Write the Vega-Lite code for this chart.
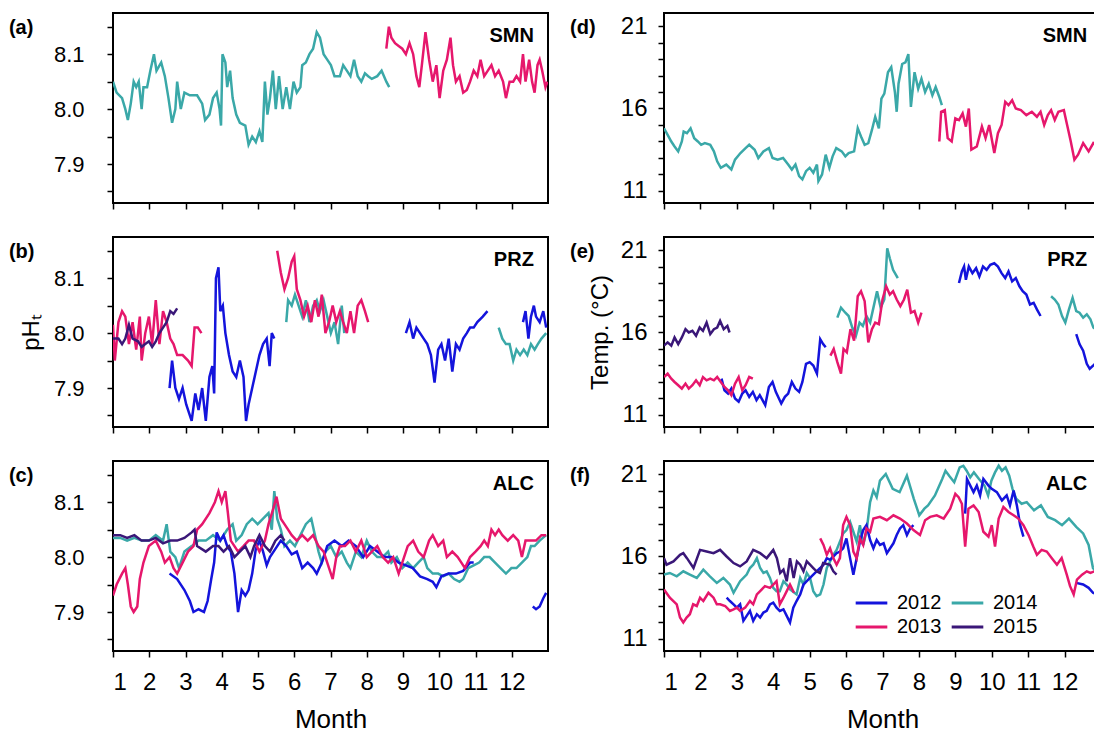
{
"$schema": "https://vega.github.io/schema/vega-lite/v6.json",
"background": "white",
"padding": {"left": 7, "top": 12, "right": 0, "bottom": 0},
"config": {
  "font": "Liberation Sans",
  "view": {"stroke": "black", "strokeWidth": 2},
  "axis": {"grid": false, "domain": false, "tickColor": "black", "tickWidth": 1.5, "labelColor": "black", "titleColor": "black", "titleFontWeight": "normal", "labelOverlap": false, "labelBound": false, "tickCount": 40},
  "text": {"color": "black"}
},
"datasets": {
"a": [
{"m":1.00,"v":8.05,"y":"2014","g":"t"},{"m":1.10,"v":8.03,"y":"2014","g":"t"},{"m":1.25,"v":8.02,"y":"2014","g":"t"},{"m":1.34,"v":8.00,"y":"2014","g":"t"},{"m":1.41,"v":7.98,"y":"2014","g":"t"},{"m":1.49,"v":8.01,"y":"2014","g":"t"},{"m":1.57,"v":8.05,"y":"2014","g":"t"},{"m":1.64,"v":8.04,"y":"2014","g":"t"},{"m":1.71,"v":8.05,"y":"2014","g":"t"},{"m":1.79,"v":8.00,"y":"2014","g":"t"},{"m":1.84,"v":8.04,"y":"2014","g":"t"},{"m":1.94,"v":8.04,"y":"2014","g":"t"},{"m":2.03,"v":8.07,"y":"2014","g":"t"},{"m":2.13,"v":8.10,"y":"2014","g":"t"},{"m":2.20,"v":8.07,"y":"2014","g":"t"},{"m":2.33,"v":8.085,"y":"2014","g":"t"},{"m":2.43,"v":8.06,"y":"2014","g":"t"},{"m":2.53,"v":8.02,"y":"2014","g":"t"},{"m":2.63,"v":7.975,"y":"2014","g":"t"},{"m":2.72,"v":8.00,"y":"2014","g":"t"},{"m":2.77,"v":8.05,"y":"2014","g":"t"},{"m":2.87,"v":8.00,"y":"2014","g":"t"},{"m":2.97,"v":8.03,"y":"2014","g":"t"},{"m":3.12,"v":8.025,"y":"2014","g":"t"},{"m":3.32,"v":8.025,"y":"2014","g":"t"},{"m":3.46,"v":8.01,"y":"2014","g":"t"},{"m":3.54,"v":7.98,"y":"2014","g":"t"},{"m":3.66,"v":7.99,"y":"2014","g":"t"},{"m":3.76,"v":8.02,"y":"2014","g":"t"},{"m":3.86,"v":8.03,"y":"2014","g":"t"},{"m":3.94,"v":8.00,"y":"2014","g":"t"},{"m":3.98,"v":7.97,"y":"2014","g":"t"},{"m":4.02,"v":8.10,"y":"2014","g":"t"},{"m":4.10,"v":8.085,"y":"2014","g":"t"},{"m":4.15,"v":8.04,"y":"2014","g":"t"},{"m":4.23,"v":8.07,"y":"2014","g":"t"},{"m":4.30,"v":8.02,"y":"2014","g":"t"},{"m":4.40,"v":7.99,"y":"2014","g":"t"},{"m":4.50,"v":7.975,"y":"2014","g":"t"},{"m":4.65,"v":7.97,"y":"2014","g":"t"},{"m":4.74,"v":7.935,"y":"2014","g":"t"},{"m":4.84,"v":7.95,"y":"2014","g":"t"},{"m":4.94,"v":7.94,"y":"2014","g":"t"},{"m":5.04,"v":7.96,"y":"2014","g":"t"},{"m":5.12,"v":7.94,"y":"2014","g":"t"},{"m":5.19,"v":8.05,"y":"2014","g":"t"},{"m":5.26,"v":7.99,"y":"2014","g":"t"},{"m":5.33,"v":8.02,"y":"2014","g":"t"},{"m":5.41,"v":8.07,"y":"2014","g":"t"},{"m":5.49,"v":8.00,"y":"2014","g":"t"},{"m":5.58,"v":8.06,"y":"2014","g":"t"},{"m":5.68,"v":8.00,"y":"2014","g":"t"},{"m":5.78,"v":8.04,"y":"2014","g":"t"},{"m":5.88,"v":8.00,"y":"2014","g":"t"},{"m":5.98,"v":8.05,"y":"2014","g":"t"},{"m":6.07,"v":8.03,"y":"2014","g":"t"},{"m":6.17,"v":8.04,"y":"2014","g":"t"},{"m":6.22,"v":8.08,"y":"2014","g":"t"},{"m":6.32,"v":8.085,"y":"2014","g":"t"},{"m":6.42,"v":8.10,"y":"2014","g":"t"},{"m":6.52,"v":8.11,"y":"2014","g":"t"},{"m":6.62,"v":8.14,"y":"2014","g":"t"},{"m":6.71,"v":8.13,"y":"2014","g":"t"},{"m":6.81,"v":8.10,"y":"2014","g":"t"},{"m":6.91,"v":8.09,"y":"2014","g":"t"},{"m":7.01,"v":8.08,"y":"2014","g":"t"},{"m":7.11,"v":8.06,"y":"2014","g":"t"},{"m":7.26,"v":8.06,"y":"2014","g":"t"},{"m":7.35,"v":8.08,"y":"2014","g":"t"},{"m":7.45,"v":8.07,"y":"2014","g":"t"},{"m":7.55,"v":8.06,"y":"2014","g":"t"},{"m":7.65,"v":8.09,"y":"2014","g":"t"},{"m":7.75,"v":8.06,"y":"2014","g":"t"},{"m":7.85,"v":8.05,"y":"2014","g":"t"},{"m":7.95,"v":8.065,"y":"2014","g":"t"},{"m":8.04,"v":8.06,"y":"2014","g":"t"},{"m":8.14,"v":8.055,"y":"2014","g":"t"},{"m":8.29,"v":8.06,"y":"2014","g":"t"},{"m":8.41,"v":8.07,"y":"2014","g":"t"},{"m":8.54,"v":8.05,"y":"2014","g":"t"},{"m":8.62,"v":8.04,"y":"2014","g":"t"},
{"m":8.54,"v":8.11,"y":"2013","g":"p"},{"m":8.61,"v":8.15,"y":"2013","g":"p"},{"m":8.68,"v":8.13,"y":"2013","g":"p"},{"m":8.78,"v":8.12,"y":"2013","g":"p"},{"m":8.88,"v":8.115,"y":"2013","g":"p"},{"m":8.98,"v":8.11,"y":"2013","g":"p"},{"m":9.08,"v":8.10,"y":"2013","g":"p"},{"m":9.18,"v":8.12,"y":"2013","g":"p"},{"m":9.28,"v":8.10,"y":"2013","g":"p"},{"m":9.37,"v":8.06,"y":"2013","g":"p"},{"m":9.45,"v":8.04,"y":"2013","g":"p"},{"m":9.52,"v":8.08,"y":"2013","g":"p"},{"m":9.62,"v":8.14,"y":"2013","g":"p"},{"m":9.72,"v":8.09,"y":"2013","g":"p"},{"m":9.82,"v":8.05,"y":"2013","g":"p"},{"m":9.92,"v":8.08,"y":"2013","g":"p"},{"m":10.01,"v":8.02,"y":"2013","g":"p"},{"m":10.11,"v":8.07,"y":"2013","g":"p"},{"m":10.21,"v":8.09,"y":"2013","g":"p"},{"m":10.31,"v":8.13,"y":"2013","g":"p"},{"m":10.38,"v":8.08,"y":"2013","g":"p"},{"m":10.46,"v":8.05,"y":"2013","g":"p"},{"m":10.56,"v":8.06,"y":"2013","g":"p"},{"m":10.66,"v":8.03,"y":"2013","g":"p"},{"m":10.76,"v":8.035,"y":"2013","g":"p"},{"m":10.85,"v":8.05,"y":"2013","g":"p"},{"m":10.95,"v":8.07,"y":"2013","g":"p"},{"m":11.05,"v":8.06,"y":"2013","g":"p"},{"m":11.14,"v":8.09,"y":"2013","g":"p"},{"m":11.24,"v":8.06,"y":"2013","g":"p"},{"m":11.34,"v":8.07,"y":"2013","g":"p"},{"m":11.44,"v":8.08,"y":"2013","g":"p"},{"m":11.54,"v":8.06,"y":"2013","g":"p"},{"m":11.64,"v":8.07,"y":"2013","g":"p"},{"m":11.76,"v":8.05,"y":"2013","g":"p"},{"m":11.84,"v":8.02,"y":"2013","g":"p"},{"m":11.94,"v":8.05,"y":"2013","g":"p"},{"m":12.04,"v":8.05,"y":"2013","g":"p"},{"m":12.13,"v":8.06,"y":"2013","g":"p"},{"m":12.23,"v":8.05,"y":"2013","g":"p"},{"m":12.31,"v":8.10,"y":"2013","g":"p"},{"m":12.38,"v":8.05,"y":"2013","g":"p"},{"m":12.48,"v":8.09,"y":"2013","g":"p"},{"m":12.56,"v":8.05,"y":"2013","g":"p"},{"m":12.63,"v":8.03,"y":"2013","g":"p"},{"m":12.71,"v":8.08,"y":"2013","g":"p"},{"m":12.77,"v":8.09,"y":"2013","g":"p"},{"m":12.84,"v":8.07,"y":"2013","g":"p"},{"m":12.93,"v":8.04,"y":"2013","g":"p"},{"m":12.98,"v":8.05,"y":"2013","g":"p"}
],
"b": [
{"m":5.78,"v":8.02,"y":"2014","g":"t1"},{"m":5.83,"v":8.06,"y":"2014","g":"t1"},{"m":5.93,"v":8.05,"y":"2014","g":"t1"},{"m":6.02,"v":8.07,"y":"2014","g":"t1"},{"m":6.12,"v":8.05,"y":"2014","g":"t1"},{"m":6.22,"v":8.03,"y":"2014","g":"t1"},{"m":6.32,"v":8.06,"y":"2014","g":"t1"},{"m":6.42,"v":8.02,"y":"2014","g":"t1"},{"m":6.52,"v":8.05,"y":"2014","g":"t1"},{"m":6.62,"v":8.06,"y":"2014","g":"t1"},{"m":6.71,"v":8.04,"y":"2014","g":"t1"},{"m":6.81,"v":8.06,"y":"2014","g":"t1"},{"m":6.91,"v":8.03,"y":"2014","g":"t1"},{"m":7.01,"v":8.00,"y":"2014","g":"t1"},{"m":7.11,"v":8.02,"y":"2014","g":"t1"},{"m":7.21,"v":7.98,"y":"2014","g":"t1"},{"m":7.31,"v":8.05,"y":"2014","g":"t1"},{"m":7.38,"v":8.00,"y":"2014","g":"t1"},
{"m":11.64,"v":8.01,"y":"2014","g":"t2"},{"m":11.74,"v":7.99,"y":"2014","g":"t2"},{"m":11.84,"v":7.98,"y":"2014","g":"t2"},{"m":11.94,"v":7.98,"y":"2014","g":"t2"},{"m":12.04,"v":7.95,"y":"2014","g":"t2"},{"m":12.13,"v":7.97,"y":"2014","g":"t2"},{"m":12.23,"v":7.96,"y":"2014","g":"t2"},{"m":12.33,"v":7.97,"y":"2014","g":"t2"},{"m":12.43,"v":7.96,"y":"2014","g":"t2"},{"m":12.53,"v":7.98,"y":"2014","g":"t2"},{"m":12.63,"v":7.97,"y":"2014","g":"t2"},{"m":12.72,"v":7.98,"y":"2014","g":"t2"},{"m":12.82,"v":7.99,"y":"2014","g":"t2"},{"m":12.95,"v":8.00,"y":"2014","g":"t2"},
{"m":2.56,"v":7.90,"y":"2012","g":"b1"},{"m":2.63,"v":7.95,"y":"2012","g":"b1"},{"m":2.72,"v":7.90,"y":"2012","g":"b1"},{"m":2.82,"v":7.88,"y":"2012","g":"b1"},{"m":2.92,"v":7.90,"y":"2012","g":"b1"},{"m":3.02,"v":7.87,"y":"2012","g":"b1"},{"m":3.17,"v":7.84,"y":"2012","g":"b1"},{"m":3.27,"v":7.89,"y":"2012","g":"b1"},{"m":3.36,"v":7.86,"y":"2012","g":"b1"},{"m":3.46,"v":7.90,"y":"2012","g":"b1"},{"m":3.56,"v":7.84,"y":"2012","g":"b1"},{"m":3.66,"v":7.92,"y":"2012","g":"b1"},{"m":3.74,"v":7.94,"y":"2012","g":"b1"},{"m":3.79,"v":7.89,"y":"2012","g":"b1"},{"m":3.84,"v":8.10,"y":"2012","g":"b1"},{"m":3.91,"v":8.12,"y":"2012","g":"b1"},{"m":3.96,"v":8.04,"y":"2012","g":"b1"},{"m":4.03,"v":8.05,"y":"2012","g":"b1"},{"m":4.10,"v":8.00,"y":"2012","g":"b1"},{"m":4.20,"v":7.96,"y":"2012","g":"b1"},{"m":4.30,"v":7.93,"y":"2012","g":"b1"},{"m":4.40,"v":7.92,"y":"2012","g":"b1"},{"m":4.50,"v":7.95,"y":"2012","g":"b1"},{"m":4.60,"v":7.92,"y":"2012","g":"b1"},{"m":4.67,"v":7.84,"y":"2012","g":"b1"},{"m":4.74,"v":7.87,"y":"2012","g":"b1"},{"m":4.84,"v":7.90,"y":"2012","g":"b1"},{"m":4.94,"v":7.93,"y":"2012","g":"b1"},{"m":5.04,"v":7.96,"y":"2012","g":"b1"},{"m":5.14,"v":7.98,"y":"2012","g":"b1"},{"m":5.24,"v":7.99,"y":"2012","g":"b1"},{"m":5.32,"v":7.94,"y":"2012","g":"b1"},{"m":5.38,"v":8.00,"y":"2012","g":"b1"},{"m":5.45,"v":7.99,"y":"2012","g":"b1"},
{"m":9.08,"v":8.00,"y":"2012","g":"b2"},{"m":9.18,"v":8.02,"y":"2012","g":"b2"},{"m":9.28,"v":7.99,"y":"2012","g":"b2"},{"m":9.37,"v":8.01,"y":"2012","g":"b2"},{"m":9.47,"v":8.00,"y":"2012","g":"b2"},{"m":9.57,"v":7.99,"y":"2012","g":"b2"},{"m":9.67,"v":7.98,"y":"2012","g":"b2"},{"m":9.77,"v":7.96,"y":"2012","g":"b2"},{"m":9.87,"v":7.91,"y":"2012","g":"b2"},{"m":9.97,"v":7.97,"y":"2012","g":"b2"},{"m":10.06,"v":7.98,"y":"2012","g":"b2"},{"m":10.16,"v":7.95,"y":"2012","g":"b2"},{"m":10.26,"v":7.99,"y":"2012","g":"b2"},{"m":10.36,"v":7.93,"y":"2012","g":"b2"},{"m":10.46,"v":7.98,"y":"2012","g":"b2"},{"m":10.56,"v":7.97,"y":"2012","g":"b2"},{"m":10.66,"v":7.99,"y":"2012","g":"b2"},{"m":10.76,"v":8.00,"y":"2012","g":"b2"},{"m":10.85,"v":8.01,"y":"2012","g":"b2"},{"m":10.95,"v":8.01,"y":"2012","g":"b2"},{"m":11.05,"v":8.02,"y":"2012","g":"b2"},{"m":11.20,"v":8.03,"y":"2012","g":"b2"},{"m":11.33,"v":8.04,"y":"2012","g":"b2"},
{"m":12.31,"v":8.02,"y":"2012","g":"b3"},{"m":12.38,"v":8.04,"y":"2012","g":"b3"},{"m":12.46,"v":7.99,"y":"2012","g":"b3"},{"m":12.53,"v":8.03,"y":"2012","g":"b3"},{"m":12.61,"v":8.05,"y":"2012","g":"b3"},{"m":12.67,"v":8.03,"y":"2012","g":"b3"},{"m":12.77,"v":8.02,"y":"2012","g":"b3"},{"m":12.87,"v":8.04,"y":"2012","g":"b3"},{"m":12.95,"v":8.01,"y":"2012","g":"b3"},
{"m":1.00,"v":8.015,"y":"2013","g":"p1"},{"m":1.05,"v":7.95,"y":"2013","g":"p1"},{"m":1.15,"v":8.02,"y":"2013","g":"p1"},{"m":1.25,"v":8.04,"y":"2013","g":"p1"},{"m":1.34,"v":8.03,"y":"2013","g":"p1"},{"m":1.44,"v":7.98,"y":"2013","g":"p1"},{"m":1.54,"v":8.02,"y":"2013","g":"p1"},{"m":1.64,"v":7.97,"y":"2013","g":"p1"},{"m":1.74,"v":8.03,"y":"2013","g":"p1"},{"m":1.79,"v":7.95,"y":"2013","g":"p1"},{"m":1.89,"v":8.00,"y":"2013","g":"p1"},{"m":1.99,"v":8.03,"y":"2013","g":"p1"},{"m":2.08,"v":7.98,"y":"2013","g":"p1"},{"m":2.18,"v":8.06,"y":"2013","g":"p1"},{"m":2.28,"v":7.98,"y":"2013","g":"p1"},{"m":2.38,"v":8.04,"y":"2013","g":"p1"},{"m":2.48,"v":8.02,"y":"2013","g":"p1"},{"m":2.58,"v":7.99,"y":"2013","g":"p1"},{"m":2.67,"v":7.98,"y":"2013","g":"p1"},{"m":2.77,"v":7.96,"y":"2013","g":"p1"},{"m":2.92,"v":7.96,"y":"2013","g":"p1"},{"m":3.07,"v":7.95,"y":"2013","g":"p1"},{"m":3.17,"v":7.94,"y":"2013","g":"p1"},{"m":3.25,"v":8.01,"y":"2013","g":"p1"},{"m":3.34,"v":8.01,"y":"2013","g":"p1"},{"m":3.44,"v":8.00,"y":"2013","g":"p1"},
{"m":5.53,"v":8.15,"y":"2013","g":"p2"},{"m":5.63,"v":8.11,"y":"2013","g":"p2"},{"m":5.73,"v":8.08,"y":"2013","g":"p2"},{"m":5.83,"v":8.10,"y":"2013","g":"p2"},{"m":5.93,"v":8.13,"y":"2013","g":"p2"},{"m":6.00,"v":8.14,"y":"2013","g":"p2"},{"m":6.07,"v":8.08,"y":"2013","g":"p2"},{"m":6.17,"v":8.06,"y":"2013","g":"p2"},{"m":6.27,"v":8.03,"y":"2013","g":"p2"},{"m":6.37,"v":8.05,"y":"2013","g":"p2"},{"m":6.47,"v":8.02,"y":"2013","g":"p2"},{"m":6.57,"v":8.06,"y":"2013","g":"p2"},{"m":6.67,"v":8.03,"y":"2013","g":"p2"},{"m":6.76,"v":8.07,"y":"2013","g":"p2"},{"m":6.86,"v":8.00,"y":"2013","g":"p2"},{"m":6.96,"v":8.02,"y":"2013","g":"p2"},{"m":7.06,"v":8.05,"y":"2013","g":"p2"},{"m":7.16,"v":8.02,"y":"2013","g":"p2"},{"m":7.26,"v":8.04,"y":"2013","g":"p2"},{"m":7.35,"v":8.02,"y":"2013","g":"p2"},{"m":7.45,"v":8.00,"y":"2013","g":"p2"},{"m":7.55,"v":8.04,"y":"2013","g":"p2"},{"m":7.65,"v":8.00,"y":"2013","g":"p2"},{"m":7.75,"v":8.05,"y":"2013","g":"p2"},{"m":7.85,"v":8.06,"y":"2013","g":"p2"},{"m":7.95,"v":8.04,"y":"2013","g":"p2"},{"m":8.04,"v":8.02,"y":"2013","g":"p2"},
{"m":1.00,"v":7.99,"y":"2015","g":"u"},{"m":1.15,"v":7.99,"y":"2015","g":"u"},{"m":1.25,"v":7.98,"y":"2015","g":"u"},{"m":1.34,"v":7.99,"y":"2015","g":"u"},{"m":1.44,"v":8.015,"y":"2015","g":"u"},{"m":1.54,"v":7.99,"y":"2015","g":"u"},{"m":1.69,"v":7.985,"y":"2015","g":"u"},{"m":1.79,"v":7.975,"y":"2015","g":"u"},{"m":1.89,"v":7.98,"y":"2015","g":"u"},{"m":1.99,"v":7.985,"y":"2015","g":"u"},{"m":2.08,"v":7.975,"y":"2015","g":"u"},{"m":2.18,"v":7.985,"y":"2015","g":"u"},{"m":2.28,"v":8.00,"y":"2015","g":"u"},{"m":2.38,"v":8.01,"y":"2015","g":"u"},{"m":2.48,"v":8.02,"y":"2015","g":"u"},{"m":2.58,"v":8.04,"y":"2015","g":"u"},{"m":2.67,"v":8.035,"y":"2015","g":"u"},{"m":2.77,"v":8.045,"y":"2015","g":"u"}
],
"c": [
{"m":1.00,"v":8.035,"y":"2014","g":"t"},{"m":1.20,"v":8.035,"y":"2014","g":"t"},{"m":1.39,"v":8.03,"y":"2014","g":"t"},{"m":1.59,"v":8.035,"y":"2014","g":"t"},{"m":1.79,"v":8.03,"y":"2014","g":"t"},{"m":1.99,"v":8.03,"y":"2014","g":"t"},{"m":2.18,"v":8.04,"y":"2014","g":"t"},{"m":2.38,"v":8.03,"y":"2014","g":"t"},{"m":2.48,"v":8.06,"y":"2014","g":"t"},{"m":2.58,"v":8.01,"y":"2014","g":"t"},{"m":2.72,"v":8.00,"y":"2014","g":"t"},{"m":2.82,"v":7.98,"y":"2014","g":"t"},{"m":2.97,"v":8.01,"y":"2014","g":"t"},{"m":3.17,"v":8.02,"y":"2014","g":"t"},{"m":3.36,"v":8.03,"y":"2014","g":"t"},{"m":3.56,"v":8.03,"y":"2014","g":"t"},{"m":3.76,"v":8.04,"y":"2014","g":"t"},{"m":3.96,"v":8.03,"y":"2014","g":"t"},{"m":4.15,"v":8.05,"y":"2014","g":"t"},{"m":4.30,"v":8.06,"y":"2014","g":"t"},{"m":4.40,"v":8.03,"y":"2014","g":"t"},{"m":4.55,"v":8.04,"y":"2014","g":"t"},{"m":4.69,"v":8.06,"y":"2014","g":"t"},{"m":4.84,"v":8.07,"y":"2014","g":"t"},{"m":4.99,"v":8.06,"y":"2014","g":"t"},{"m":5.14,"v":8.07,"y":"2014","g":"t"},{"m":5.29,"v":8.08,"y":"2014","g":"t"},{"m":5.38,"v":8.05,"y":"2014","g":"t"},{"m":5.45,"v":8.12,"y":"2014","g":"t"},{"m":5.53,"v":8.07,"y":"2014","g":"t"},{"m":5.63,"v":8.05,"y":"2014","g":"t"},{"m":5.73,"v":8.02,"y":"2014","g":"t"},{"m":5.88,"v":8.03,"y":"2014","g":"t"},{"m":6.02,"v":8.02,"y":"2014","g":"t"},{"m":6.17,"v":8.04,"y":"2014","g":"t"},{"m":6.32,"v":8.06,"y":"2014","g":"t"},{"m":6.47,"v":8.07,"y":"2014","g":"t"},{"m":6.57,"v":8.04,"y":"2014","g":"t"},{"m":6.67,"v":8.01,"y":"2014","g":"t"},{"m":6.76,"v":7.99,"y":"2014","g":"t"},{"m":6.86,"v":8.01,"y":"2014","g":"t"},{"m":7.01,"v":8.02,"y":"2014","g":"t"},{"m":7.16,"v":8.00,"y":"2014","g":"t"},{"m":7.31,"v":8.01,"y":"2014","g":"t"},{"m":7.45,"v":7.99,"y":"2014","g":"t"},{"m":7.55,"v":7.98,"y":"2014","g":"t"},{"m":7.70,"v":8.01,"y":"2014","g":"t"},{"m":7.85,"v":8.00,"y":"2014","g":"t"},{"m":8.00,"v":8.03,"y":"2014","g":"t"},{"m":8.14,"v":8.01,"y":"2014","g":"t"},{"m":8.29,"v":8.00,"y":"2014","g":"t"},{"m":8.44,"v":8.00,"y":"2014","g":"t"},{"m":8.59,"v":8.01,"y":"2014","g":"t"},{"m":8.68,"v":7.99,"y":"2014","g":"t"},{"m":8.83,"v":8.00,"y":"2014","g":"t"},{"m":8.98,"v":7.98,"y":"2014","g":"t"},{"m":9.13,"v":7.99,"y":"2014","g":"t"},{"m":9.28,"v":7.98,"y":"2014","g":"t"},{"m":9.42,"v":7.99,"y":"2014","g":"t"},{"m":9.57,"v":8.00,"y":"2014","g":"t"},{"m":9.67,"v":7.98,"y":"2014","g":"t"},{"m":9.82,"v":7.97,"y":"2014","g":"t"},{"m":9.97,"v":7.97,"y":"2014","g":"t"},{"m":10.11,"v":7.965,"y":"2014","g":"t"},{"m":10.26,"v":7.97,"y":"2014","g":"t"},{"m":10.41,"v":7.96,"y":"2014","g":"t"},{"m":10.56,"v":7.955,"y":"2014","g":"t"},{"m":10.66,"v":7.96,"y":"2014","g":"t"},{"m":10.80,"v":7.98,"y":"2014","g":"t"},{"m":10.95,"v":7.985,"y":"2014","g":"t"},{"m":11.10,"v":7.99,"y":"2014","g":"t"},{"m":11.24,"v":8.00,"y":"2014","g":"t"},{"m":11.39,"v":8.00,"y":"2014","g":"t"},{"m":11.54,"v":7.99,"y":"2014","g":"t"},{"m":11.69,"v":7.98,"y":"2014","g":"t"},{"m":11.84,"v":7.97,"y":"2014","g":"t"},{"m":11.99,"v":7.98,"y":"2014","g":"t"},{"m":12.13,"v":7.98,"y":"2014","g":"t"},{"m":12.28,"v":7.99,"y":"2014","g":"t"},{"m":12.43,"v":8.00,"y":"2014","g":"t"},{"m":12.53,"v":8.02,"y":"2014","g":"t"},{"m":12.63,"v":8.02,"y":"2014","g":"t"},{"m":12.77,"v":8.03,"y":"2014","g":"t"},{"m":12.95,"v":8.04,"y":"2014","g":"t"},
{"m":2.56,"v":7.97,"y":"2012","g":"b1"},{"m":2.77,"v":7.96,"y":"2012","g":"b1"},{"m":2.97,"v":7.94,"y":"2012","g":"b1"},{"m":3.12,"v":7.92,"y":"2012","g":"b1"},{"m":3.22,"v":7.90,"y":"2012","g":"b1"},{"m":3.36,"v":7.905,"y":"2012","g":"b1"},{"m":3.51,"v":7.90,"y":"2012","g":"b1"},{"m":3.61,"v":7.92,"y":"2012","g":"b1"},{"m":3.71,"v":7.96,"y":"2012","g":"b1"},{"m":3.79,"v":7.99,"y":"2012","g":"b1"},{"m":3.86,"v":8.045,"y":"2012","g":"b1"},{"m":3.96,"v":8.03,"y":"2012","g":"b1"},{"m":4.05,"v":8.04,"y":"2012","g":"b1"},{"m":4.15,"v":8.02,"y":"2012","g":"b1"},{"m":4.25,"v":8.01,"y":"2012","g":"b1"},{"m":4.35,"v":7.97,"y":"2012","g":"b1"},{"m":4.45,"v":7.90,"y":"2012","g":"b1"},{"m":4.55,"v":7.94,"y":"2012","g":"b1"},{"m":4.65,"v":7.93,"y":"2012","g":"b1"},{"m":4.74,"v":7.94,"y":"2012","g":"b1"},{"m":4.84,"v":7.97,"y":"2012","g":"b1"},{"m":4.94,"v":8.015,"y":"2012","g":"b1"},{"m":5.04,"v":8.03,"y":"2012","g":"b1"},{"m":5.14,"v":8.01,"y":"2012","g":"b1"},{"m":5.24,"v":7.985,"y":"2012","g":"b1"},{"m":5.33,"v":8.00,"y":"2012","g":"b1"},{"m":5.48,"v":8.015,"y":"2012","g":"b1"},{"m":5.63,"v":8.03,"y":"2012","g":"b1"},{"m":5.78,"v":8.02,"y":"2012","g":"b1"},{"m":5.93,"v":8.005,"y":"2012","g":"b1"},{"m":6.07,"v":8.01,"y":"2012","g":"b1"},{"m":6.22,"v":7.98,"y":"2012","g":"b1"},{"m":6.37,"v":7.99,"y":"2012","g":"b1"},{"m":6.52,"v":7.98,"y":"2012","g":"b1"},{"m":6.62,"v":7.97,"y":"2012","g":"b1"},{"m":6.76,"v":7.99,"y":"2012","g":"b1"},{"m":6.91,"v":8.02,"y":"2012","g":"b1"},{"m":7.11,"v":8.03,"y":"2012","g":"b1"},{"m":7.31,"v":8.02,"y":"2012","g":"b1"},{"m":7.50,"v":8.03,"y":"2012","g":"b1"},{"m":7.70,"v":8.02,"y":"2012","g":"b1"},{"m":7.90,"v":8.00,"y":"2012","g":"b1"},{"m":8.09,"v":8.02,"y":"2012","g":"b1"},{"m":8.29,"v":8.01,"y":"2012","g":"b1"},{"m":8.49,"v":8.00,"y":"2012","g":"b1"},{"m":8.68,"v":8.00,"y":"2012","g":"b1"},{"m":8.88,"v":7.99,"y":"2012","g":"b1"},{"m":9.08,"v":7.985,"y":"2012","g":"b1"},{"m":9.27,"v":7.98,"y":"2012","g":"b1"},{"m":9.47,"v":7.965,"y":"2012","g":"b1"},{"m":9.67,"v":7.96,"y":"2012","g":"b1"},{"m":9.82,"v":7.955,"y":"2012","g":"b1"},{"m":9.92,"v":7.945,"y":"2012","g":"b1"},{"m":10.06,"v":7.965,"y":"2012","g":"b1"},{"m":10.26,"v":7.97,"y":"2012","g":"b1"},{"m":10.46,"v":7.97,"y":"2012","g":"b1"},{"m":10.66,"v":7.975,"y":"2012","g":"b1"},{"m":10.85,"v":7.99,"y":"2012","g":"b1"},{"m":10.95,"v":7.99,"y":"2012","g":"b1"},
{"m":12.58,"v":7.91,"y":"2012","g":"b2"},{"m":12.67,"v":7.905,"y":"2012","g":"b2"},{"m":12.77,"v":7.91,"y":"2012","g":"b2"},{"m":12.87,"v":7.925,"y":"2012","g":"b2"},{"m":12.95,"v":7.935,"y":"2012","g":"b2"},
{"m":1.00,"v":7.93,"y":"2013","g":"p"},{"m":1.10,"v":7.95,"y":"2013","g":"p"},{"m":1.25,"v":7.97,"y":"2013","g":"p"},{"m":1.34,"v":7.98,"y":"2013","g":"p"},{"m":1.41,"v":7.95,"y":"2013","g":"p"},{"m":1.49,"v":7.91,"y":"2013","g":"p"},{"m":1.57,"v":7.90,"y":"2013","g":"p"},{"m":1.67,"v":7.91,"y":"2013","g":"p"},{"m":1.74,"v":7.96,"y":"2013","g":"p"},{"m":1.84,"v":7.99,"y":"2013","g":"p"},{"m":1.99,"v":8.02,"y":"2013","g":"p"},{"m":2.18,"v":8.03,"y":"2013","g":"p"},{"m":2.33,"v":8.01,"y":"2013","g":"p"},{"m":2.43,"v":7.99,"y":"2013","g":"p"},{"m":2.56,"v":8.00,"y":"2013","g":"p"},{"m":2.67,"v":7.98,"y":"2013","g":"p"},{"m":2.77,"v":7.97,"y":"2013","g":"p"},{"m":2.92,"v":7.99,"y":"2013","g":"p"},{"m":3.07,"v":8.01,"y":"2013","g":"p"},{"m":3.22,"v":8.02,"y":"2013","g":"p"},{"m":3.32,"v":8.05,"y":"2013","g":"p"},{"m":3.46,"v":8.06,"y":"2013","g":"p"},{"m":3.66,"v":8.08,"y":"2013","g":"p"},{"m":3.81,"v":8.10,"y":"2013","g":"p"},{"m":3.91,"v":8.12,"y":"2013","g":"p"},{"m":4.00,"v":8.10,"y":"2013","g":"p"},{"m":4.10,"v":8.12,"y":"2013","g":"p"},{"m":4.17,"v":8.08,"y":"2013","g":"p"},{"m":4.25,"v":8.03,"y":"2013","g":"p"},{"m":4.35,"v":8.02,"y":"2013","g":"p"},{"m":4.45,"v":8.01,"y":"2013","g":"p"},{"m":4.60,"v":8.02,"y":"2013","g":"p"},{"m":4.74,"v":8.03,"y":"2013","g":"p"},{"m":4.89,"v":8.03,"y":"2013","g":"p"},{"m":5.04,"v":8.01,"y":"2013","g":"p"},{"m":5.19,"v":8.03,"y":"2013","g":"p"},{"m":5.29,"v":8.06,"y":"2013","g":"p"},{"m":5.43,"v":8.09,"y":"2013","g":"p"},{"m":5.51,"v":8.11,"y":"2013","g":"p"},{"m":5.63,"v":8.07,"y":"2013","g":"p"},{"m":5.73,"v":8.06,"y":"2013","g":"p"},{"m":5.83,"v":8.05,"y":"2013","g":"p"},{"m":5.93,"v":8.04,"y":"2013","g":"p"},{"m":6.07,"v":8.03,"y":"2013","g":"p"},{"m":6.22,"v":8.04,"y":"2013","g":"p"},{"m":6.37,"v":8.03,"y":"2013","g":"p"},{"m":6.52,"v":8.04,"y":"2013","g":"p"},{"m":6.67,"v":8.02,"y":"2013","g":"p"},{"m":6.81,"v":8.01,"y":"2013","g":"p"},{"m":6.96,"v":7.98,"y":"2013","g":"p"},{"m":7.06,"v":7.96,"y":"2013","g":"p"},{"m":7.16,"v":8.00,"y":"2013","g":"p"},{"m":7.26,"v":8.02,"y":"2013","g":"p"},{"m":7.40,"v":8.02,"y":"2013","g":"p"},{"m":7.55,"v":8.03,"y":"2013","g":"p"},{"m":7.70,"v":8.01,"y":"2013","g":"p"},{"m":7.85,"v":8.03,"y":"2013","g":"p"},{"m":8.00,"v":8.00,"y":"2013","g":"p"},{"m":8.14,"v":8.01,"y":"2013","g":"p"},{"m":8.29,"v":8.02,"y":"2013","g":"p"},{"m":8.44,"v":8.00,"y":"2013","g":"p"},{"m":8.59,"v":7.99,"y":"2013","g":"p"},{"m":8.73,"v":8.00,"y":"2013","g":"p"},{"m":8.88,"v":7.97,"y":"2013","g":"p"},{"m":8.98,"v":7.99,"y":"2013","g":"p"},{"m":9.13,"v":8.02,"y":"2013","g":"p"},{"m":9.28,"v":8.03,"y":"2013","g":"p"},{"m":9.42,"v":8.01,"y":"2013","g":"p"},{"m":9.57,"v":8.00,"y":"2013","g":"p"},{"m":9.72,"v":8.03,"y":"2013","g":"p"},{"m":9.82,"v":8.04,"y":"2013","g":"p"},{"m":9.97,"v":8.02,"y":"2013","g":"p"},{"m":10.11,"v":8.03,"y":"2013","g":"p"},{"m":10.21,"v":8.00,"y":"2013","g":"p"},{"m":10.36,"v":8.01,"y":"2013","g":"p"},{"m":10.51,"v":8.00,"y":"2013","g":"p"},{"m":10.61,"v":7.99,"y":"2013","g":"p"},{"m":10.71,"v":7.98,"y":"2013","g":"p"},{"m":10.85,"v":8.00,"y":"2013","g":"p"},{"m":11.00,"v":8.01,"y":"2013","g":"p"},{"m":11.14,"v":8.02,"y":"2013","g":"p"},{"m":11.24,"v":8.03,"y":"2013","g":"p"},{"m":11.34,"v":8.02,"y":"2013","g":"p"},{"m":11.44,"v":8.05,"y":"2013","g":"p"},{"m":11.54,"v":8.04,"y":"2013","g":"p"},{"m":11.64,"v":8.05,"y":"2013","g":"p"},{"m":11.74,"v":8.04,"y":"2013","g":"p"},{"m":11.89,"v":8.03,"y":"2013","g":"p"},{"m":12.04,"v":8.04,"y":"2013","g":"p"},{"m":12.18,"v":8.03,"y":"2013","g":"p"},{"m":12.28,"v":8.00,"y":"2013","g":"p"},{"m":12.38,"v":8.03,"y":"2013","g":"p"},{"m":12.53,"v":8.03,"y":"2013","g":"p"},{"m":12.67,"v":8.03,"y":"2013","g":"p"},{"m":12.82,"v":8.04,"y":"2013","g":"p"},{"m":12.95,"v":8.04,"y":"2013","g":"p"},
{"m":1.00,"v":8.04,"y":"2015","g":"u"},{"m":1.20,"v":8.04,"y":"2015","g":"u"},{"m":1.39,"v":8.035,"y":"2015","g":"u"},{"m":1.59,"v":8.04,"y":"2015","g":"u"},{"m":1.79,"v":8.03,"y":"2015","g":"u"},{"m":1.99,"v":8.03,"y":"2015","g":"u"},{"m":2.18,"v":8.035,"y":"2015","g":"u"},{"m":2.38,"v":8.025,"y":"2015","g":"u"},{"m":2.58,"v":8.03,"y":"2015","g":"u"},{"m":2.77,"v":8.03,"y":"2015","g":"u"},{"m":2.97,"v":8.035,"y":"2015","g":"u"},{"m":3.17,"v":8.045,"y":"2015","g":"u"},{"m":3.25,"v":8.05,"y":"2015","g":"u"},{"m":3.32,"v":8.02,"y":"2015","g":"u"},{"m":3.56,"v":8.01,"y":"2015","g":"u"},{"m":3.76,"v":8.02,"y":"2015","g":"u"},{"m":3.91,"v":8.02,"y":"2015","g":"u"},{"m":4.05,"v":8.01,"y":"2015","g":"u"},{"m":4.20,"v":8.02,"y":"2015","g":"u"},{"m":4.35,"v":8.00,"y":"2015","g":"u"},{"m":4.50,"v":8.01,"y":"2015","g":"u"},{"m":4.65,"v":8.02,"y":"2015","g":"u"},{"m":4.79,"v":8.00,"y":"2015","g":"u"},{"m":4.89,"v":8.02,"y":"2015","g":"u"},{"m":5.04,"v":8.04,"y":"2015","g":"u"},{"m":5.19,"v":8.02,"y":"2015","g":"u"},{"m":5.33,"v":8.01,"y":"2015","g":"u"},{"m":5.48,"v":8.03,"y":"2015","g":"u"},{"m":5.63,"v":8.04,"y":"2015","g":"u"},{"m":5.73,"v":8.03,"y":"2015","g":"u"}
],
"d": [
{"m":1.00,"v":14.8,"y":"2014","g":"t"},{"m":1.10,"v":14.4,"y":"2014","g":"t"},{"m":1.20,"v":14.0,"y":"2014","g":"t"},{"m":1.29,"v":13.7,"y":"2014","g":"t"},{"m":1.39,"v":13.4,"y":"2014","g":"t"},{"m":1.49,"v":14.0,"y":"2014","g":"t"},{"m":1.54,"v":14.6,"y":"2014","g":"t"},{"m":1.63,"v":14.5,"y":"2014","g":"t"},{"m":1.73,"v":14.8,"y":"2014","g":"t"},{"m":1.83,"v":14.2,"y":"2014","g":"t"},{"m":1.93,"v":14.0,"y":"2014","g":"t"},{"m":2.02,"v":13.8,"y":"2014","g":"t"},{"m":2.12,"v":13.9,"y":"2014","g":"t"},{"m":2.27,"v":13.8,"y":"2014","g":"t"},{"m":2.37,"v":13.4,"y":"2014","g":"t"},{"m":2.46,"v":12.8,"y":"2014","g":"t"},{"m":2.56,"v":12.4,"y":"2014","g":"t"},{"m":2.71,"v":12.6,"y":"2014","g":"t"},{"m":2.85,"v":12.3,"y":"2014","g":"t"},{"m":2.95,"v":12.9,"y":"2014","g":"t"},{"m":3.10,"v":13.3,"y":"2014","g":"t"},{"m":3.24,"v":13.6,"y":"2014","g":"t"},{"m":3.34,"v":13.8,"y":"2014","g":"t"},{"m":3.49,"v":13.5,"y":"2014","g":"t"},{"m":3.59,"v":13.0,"y":"2014","g":"t"},{"m":3.73,"v":13.4,"y":"2014","g":"t"},{"m":3.88,"v":13.6,"y":"2014","g":"t"},{"m":3.98,"v":13.0,"y":"2014","g":"t"},{"m":4.12,"v":12.9,"y":"2014","g":"t"},{"m":4.27,"v":13.0,"y":"2014","g":"t"},{"m":4.41,"v":12.6,"y":"2014","g":"t"},{"m":4.51,"v":12.3,"y":"2014","g":"t"},{"m":4.61,"v":12.6,"y":"2014","g":"t"},{"m":4.71,"v":11.9,"y":"2014","g":"t"},{"m":4.80,"v":11.7,"y":"2014","g":"t"},{"m":4.90,"v":12.2,"y":"2014","g":"t"},{"m":5.00,"v":12.4,"y":"2014","g":"t"},{"m":5.10,"v":12.1,"y":"2014","g":"t"},{"m":5.20,"v":12.6,"y":"2014","g":"t"},{"m":5.24,"v":11.6,"y":"2014","g":"t"},{"m":5.34,"v":12.0,"y":"2014","g":"t"},{"m":5.44,"v":13.2,"y":"2014","g":"t"},{"m":5.54,"v":12.4,"y":"2014","g":"t"},{"m":5.63,"v":13.1,"y":"2014","g":"t"},{"m":5.73,"v":13.6,"y":"2014","g":"t"},{"m":5.88,"v":13.4,"y":"2014","g":"t"},{"m":5.98,"v":13.1,"y":"2014","g":"t"},{"m":6.07,"v":13.3,"y":"2014","g":"t"},{"m":6.22,"v":13.4,"y":"2014","g":"t"},{"m":6.32,"v":14.8,"y":"2014","g":"t"},{"m":6.41,"v":14.3,"y":"2014","g":"t"},{"m":6.51,"v":13.8,"y":"2014","g":"t"},{"m":6.61,"v":13.9,"y":"2014","g":"t"},{"m":6.71,"v":14.7,"y":"2014","g":"t"},{"m":6.80,"v":15.5,"y":"2014","g":"t"},{"m":6.90,"v":14.8,"y":"2014","g":"t"},{"m":6.97,"v":16.6,"y":"2014","g":"t"},{"m":7.05,"v":16.9,"y":"2014","g":"t"},{"m":7.15,"v":18.2,"y":"2014","g":"t"},{"m":7.24,"v":18.5,"y":"2014","g":"t"},{"m":7.34,"v":17.0,"y":"2014","g":"t"},{"m":7.39,"v":15.8,"y":"2014","g":"t"},{"m":7.44,"v":17.5,"y":"2014","g":"t"},{"m":7.54,"v":18.7,"y":"2014","g":"t"},{"m":7.63,"v":18.8,"y":"2014","g":"t"},{"m":7.71,"v":19.3,"y":"2014","g":"t"},{"m":7.78,"v":16.1,"y":"2014","g":"t"},{"m":7.88,"v":18.2,"y":"2014","g":"t"},{"m":7.98,"v":17.2,"y":"2014","g":"t"},{"m":8.07,"v":17.8,"y":"2014","g":"t"},{"m":8.17,"v":17.0,"y":"2014","g":"t"},{"m":8.27,"v":17.5,"y":"2014","g":"t"},{"m":8.37,"v":16.8,"y":"2014","g":"t"},{"m":8.46,"v":17.3,"y":"2014","g":"t"},{"m":8.56,"v":16.7,"y":"2014","g":"t"},{"m":8.63,"v":16.2,"y":"2014","g":"t"},
{"m":8.56,"v":14.0,"y":"2013","g":"p"},{"m":8.61,"v":15.8,"y":"2013","g":"p"},{"m":8.71,"v":15.9,"y":"2013","g":"p"},{"m":8.79,"v":14.2,"y":"2013","g":"p"},{"m":8.90,"v":14.0,"y":"2013","g":"p"},{"m":9.00,"v":15.4,"y":"2013","g":"p"},{"m":9.10,"v":15.3,"y":"2013","g":"p"},{"m":9.20,"v":15.7,"y":"2013","g":"p"},{"m":9.29,"v":14.9,"y":"2013","g":"p"},{"m":9.37,"v":16.0,"y":"2013","g":"p"},{"m":9.44,"v":13.5,"y":"2013","g":"p"},{"m":9.59,"v":13.7,"y":"2013","g":"p"},{"m":9.73,"v":14.9,"y":"2013","g":"p"},{"m":9.83,"v":14.2,"y":"2013","g":"p"},{"m":9.93,"v":15.0,"y":"2013","g":"p"},{"m":10.07,"v":13.3,"y":"2013","g":"p"},{"m":10.17,"v":14.5,"y":"2013","g":"p"},{"m":10.27,"v":15.0,"y":"2013","g":"p"},{"m":10.37,"v":16.4,"y":"2013","g":"p"},{"m":10.46,"v":16.2,"y":"2013","g":"p"},{"m":10.56,"v":16.5,"y":"2013","g":"p"},{"m":10.66,"v":16.0,"y":"2013","g":"p"},{"m":10.80,"v":15.9,"y":"2013","g":"p"},{"m":10.95,"v":15.6,"y":"2013","g":"p"},{"m":11.10,"v":15.8,"y":"2013","g":"p"},{"m":11.24,"v":15.5,"y":"2013","g":"p"},{"m":11.34,"v":15.8,"y":"2013","g":"p"},{"m":11.44,"v":15.0,"y":"2013","g":"p"},{"m":11.54,"v":15.6,"y":"2013","g":"p"},{"m":11.63,"v":15.9,"y":"2013","g":"p"},{"m":11.73,"v":15.3,"y":"2013","g":"p"},{"m":11.83,"v":15.8,"y":"2013","g":"p"},{"m":11.98,"v":15.9,"y":"2013","g":"p"},{"m":12.07,"v":15.0,"y":"2013","g":"p"},{"m":12.17,"v":14.0,"y":"2013","g":"p"},{"m":12.27,"v":12.9,"y":"2013","g":"p"},{"m":12.37,"v":13.2,"y":"2013","g":"p"},{"m":12.51,"v":13.9,"y":"2013","g":"p"},{"m":12.66,"v":13.4,"y":"2013","g":"p"},{"m":12.79,"v":13.9,"y":"2013","g":"p"},{"m":13.00,"v":13.6,"y":"2013","g":"p"}
],
"e": [
{"m":5.76,"v":16.9,"y":"2014","g":"t1"},{"m":5.86,"v":17.5,"y":"2014","g":"t1"},{"m":5.98,"v":17.2,"y":"2014","g":"t1"},{"m":6.07,"v":17.0,"y":"2014","g":"t1"},{"m":6.17,"v":16.3,"y":"2014","g":"t1"},{"m":6.27,"v":15.8,"y":"2014","g":"t1"},{"m":6.37,"v":16.6,"y":"2014","g":"t1"},{"m":6.46,"v":16.4,"y":"2014","g":"t1"},{"m":6.56,"v":17.0,"y":"2014","g":"t1"},{"m":6.66,"v":16.6,"y":"2014","g":"t1"},{"m":6.76,"v":17.6,"y":"2014","g":"t1"},{"m":6.85,"v":18.5,"y":"2014","g":"t1"},{"m":6.95,"v":17.5,"y":"2014","g":"t1"},{"m":7.05,"v":18.0,"y":"2014","g":"t1"},{"m":7.13,"v":21.1,"y":"2014","g":"t1"},{"m":7.20,"v":20.5,"y":"2014","g":"t1"},{"m":7.29,"v":19.8,"y":"2014","g":"t1"},{"m":7.42,"v":19.3,"y":"2014","g":"t1"},
{"m":11.63,"v":18.2,"y":"2014","g":"t2"},{"m":11.73,"v":18.0,"y":"2014","g":"t2"},{"m":11.83,"v":17.7,"y":"2014","g":"t2"},{"m":11.93,"v":17.0,"y":"2014","g":"t2"},{"m":12.02,"v":16.6,"y":"2014","g":"t2"},{"m":12.12,"v":17.4,"y":"2014","g":"t2"},{"m":12.22,"v":18.1,"y":"2014","g":"t2"},{"m":12.32,"v":17.3,"y":"2014","g":"t2"},{"m":12.41,"v":17.2,"y":"2014","g":"t2"},{"m":12.51,"v":16.9,"y":"2014","g":"t2"},{"m":12.61,"v":17.1,"y":"2014","g":"t2"},{"m":12.71,"v":16.8,"y":"2014","g":"t2"},{"m":12.79,"v":16.3,"y":"2014","g":"t2"},{"m":13.00,"v":16.0,"y":"2014","g":"t2"},
{"m":2.58,"v":13.2,"y":"2012","g":"b1"},{"m":2.66,"v":12.5,"y":"2012","g":"b1"},{"m":2.76,"v":12.3,"y":"2012","g":"b1"},{"m":2.85,"v":12.6,"y":"2012","g":"b1"},{"m":2.95,"v":12.0,"y":"2012","g":"b1"},{"m":3.05,"v":11.8,"y":"2012","g":"b1"},{"m":3.15,"v":12.3,"y":"2012","g":"b1"},{"m":3.24,"v":12.5,"y":"2012","g":"b1"},{"m":3.34,"v":12.1,"y":"2012","g":"b1"},{"m":3.44,"v":12.4,"y":"2012","g":"b1"},{"m":3.54,"v":11.9,"y":"2012","g":"b1"},{"m":3.63,"v":12.2,"y":"2012","g":"b1"},{"m":3.78,"v":11.6,"y":"2012","g":"b1"},{"m":3.88,"v":12.7,"y":"2012","g":"b1"},{"m":3.98,"v":13.0,"y":"2012","g":"b1"},{"m":4.07,"v":12.4,"y":"2012","g":"b1"},{"m":4.22,"v":11.7,"y":"2012","g":"b1"},{"m":4.32,"v":12.1,"y":"2012","g":"b1"},{"m":4.41,"v":12.3,"y":"2012","g":"b1"},{"m":4.51,"v":13.0,"y":"2012","g":"b1"},{"m":4.61,"v":12.6,"y":"2012","g":"b1"},{"m":4.71,"v":12.4,"y":"2012","g":"b1"},{"m":4.80,"v":13.0,"y":"2012","g":"b1"},{"m":4.90,"v":14.1,"y":"2012","g":"b1"},{"m":5.00,"v":14.2,"y":"2012","g":"b1"},{"m":5.10,"v":14.0,"y":"2012","g":"b1"},{"m":5.20,"v":13.5,"y":"2012","g":"b1"},{"m":5.29,"v":15.6,"y":"2012","g":"b1"},{"m":5.37,"v":15.3,"y":"2012","g":"b1"},{"m":5.44,"v":15.1,"y":"2012","g":"b1"},
{"m":9.10,"v":19.0,"y":"2012","g":"b2"},{"m":9.18,"v":19.7,"y":"2012","g":"b2"},{"m":9.24,"v":20.0,"y":"2012","g":"b2"},{"m":9.29,"v":19.2,"y":"2012","g":"b2"},{"m":9.37,"v":20.0,"y":"2012","g":"b2"},{"m":9.47,"v":19.6,"y":"2012","g":"b2"},{"m":9.57,"v":19.9,"y":"2012","g":"b2"},{"m":9.66,"v":19.4,"y":"2012","g":"b2"},{"m":9.76,"v":20.0,"y":"2012","g":"b2"},{"m":9.86,"v":19.8,"y":"2012","g":"b2"},{"m":9.96,"v":20.1,"y":"2012","g":"b2"},{"m":10.07,"v":20.2,"y":"2012","g":"b2"},{"m":10.17,"v":20.0,"y":"2012","g":"b2"},{"m":10.27,"v":19.6,"y":"2012","g":"b2"},{"m":10.37,"v":19.3,"y":"2012","g":"b2"},{"m":10.46,"v":19.7,"y":"2012","g":"b2"},{"m":10.56,"v":19.1,"y":"2012","g":"b2"},{"m":10.66,"v":19.3,"y":"2012","g":"b2"},{"m":10.76,"v":18.8,"y":"2012","g":"b2"},{"m":10.85,"v":18.5,"y":"2012","g":"b2"},{"m":10.95,"v":18.3,"y":"2012","g":"b2"},{"m":11.05,"v":17.7,"y":"2012","g":"b2"},{"m":11.15,"v":17.8,"y":"2012","g":"b2"},{"m":11.24,"v":17.4,"y":"2012","g":"b2"},{"m":11.34,"v":17.0,"y":"2012","g":"b2"},
{"m":12.32,"v":15.9,"y":"2012","g":"b3"},{"m":12.41,"v":15.3,"y":"2012","g":"b3"},{"m":12.51,"v":14.9,"y":"2012","g":"b3"},{"m":12.61,"v":14.1,"y":"2012","g":"b3"},{"m":12.69,"v":13.8,"y":"2012","g":"b3"},{"m":12.79,"v":14.0,"y":"2012","g":"b3"},{"m":13.00,"v":14.5,"y":"2012","g":"b3"},
{"m":1.00,"v":13.3,"y":"2013","g":"p1"},{"m":1.10,"v":13.5,"y":"2013","g":"p1"},{"m":1.20,"v":13.2,"y":"2013","g":"p1"},{"m":1.29,"v":13.0,"y":"2013","g":"p1"},{"m":1.39,"v":12.8,"y":"2013","g":"p1"},{"m":1.49,"v":12.6,"y":"2013","g":"p1"},{"m":1.59,"v":12.9,"y":"2013","g":"p1"},{"m":1.68,"v":12.6,"y":"2013","g":"p1"},{"m":1.78,"v":12.8,"y":"2013","g":"p1"},{"m":1.88,"v":13.1,"y":"2013","g":"p1"},{"m":1.98,"v":12.8,"y":"2013","g":"p1"},{"m":2.07,"v":13.3,"y":"2013","g":"p1"},{"m":2.17,"v":13.1,"y":"2013","g":"p1"},{"m":2.27,"v":13.2,"y":"2013","g":"p1"},{"m":2.37,"v":13.1,"y":"2013","g":"p1"},{"m":2.46,"v":13.3,"y":"2013","g":"p1"},{"m":2.56,"v":13.0,"y":"2013","g":"p1"},{"m":2.66,"v":12.7,"y":"2013","g":"p1"},{"m":2.76,"v":12.5,"y":"2013","g":"p1"},{"m":2.85,"v":12.2,"y":"2013","g":"p1"},{"m":2.95,"v":12.9,"y":"2013","g":"p1"},{"m":3.05,"v":13.3,"y":"2013","g":"p1"},{"m":3.15,"v":12.5,"y":"2013","g":"p1"},{"m":3.24,"v":12.8,"y":"2013","g":"p1"},{"m":3.34,"v":13.3,"y":"2013","g":"p1"},{"m":3.44,"v":13.2,"y":"2013","g":"p1"},
{"m":5.57,"v":14.6,"y":"2013","g":"p2"},{"m":5.66,"v":15.0,"y":"2013","g":"p2"},{"m":5.76,"v":14.2,"y":"2013","g":"p2"},{"m":5.86,"v":13.5,"y":"2013","g":"p2"},{"m":5.93,"v":15.0,"y":"2013","g":"p2"},{"m":6.02,"v":14.8,"y":"2013","g":"p2"},{"m":6.12,"v":16.2,"y":"2013","g":"p2"},{"m":6.22,"v":15.5,"y":"2013","g":"p2"},{"m":6.32,"v":18.2,"y":"2013","g":"p2"},{"m":6.41,"v":18.5,"y":"2013","g":"p2"},{"m":6.51,"v":17.9,"y":"2013","g":"p2"},{"m":6.61,"v":15.4,"y":"2013","g":"p2"},{"m":6.71,"v":16.2,"y":"2013","g":"p2"},{"m":6.80,"v":16.6,"y":"2013","g":"p2"},{"m":6.90,"v":16.5,"y":"2013","g":"p2"},{"m":7.00,"v":18.0,"y":"2013","g":"p2"},{"m":7.10,"v":18.8,"y":"2013","g":"p2"},{"m":7.20,"v":18.3,"y":"2013","g":"p2"},{"m":7.29,"v":18.5,"y":"2013","g":"p2"},{"m":7.39,"v":18.0,"y":"2013","g":"p2"},{"m":7.49,"v":17.6,"y":"2013","g":"p2"},{"m":7.59,"v":18.0,"y":"2013","g":"p2"},{"m":7.68,"v":18.6,"y":"2013","g":"p2"},{"m":7.78,"v":17.2,"y":"2013","g":"p2"},{"m":7.88,"v":17.3,"y":"2013","g":"p2"},{"m":7.98,"v":16.6,"y":"2013","g":"p2"},{"m":8.07,"v":17.2,"y":"2013","g":"p2"},
{"m":1.00,"v":15.2,"y":"2015","g":"u"},{"m":1.10,"v":15.4,"y":"2015","g":"u"},{"m":1.20,"v":15.2,"y":"2015","g":"u"},{"m":1.29,"v":15.7,"y":"2015","g":"u"},{"m":1.39,"v":15.3,"y":"2015","g":"u"},{"m":1.49,"v":15.7,"y":"2015","g":"u"},{"m":1.59,"v":16.2,"y":"2015","g":"u"},{"m":1.68,"v":16.0,"y":"2015","g":"u"},{"m":1.78,"v":16.1,"y":"2015","g":"u"},{"m":1.88,"v":15.8,"y":"2015","g":"u"},{"m":1.98,"v":16.3,"y":"2015","g":"u"},{"m":2.07,"v":16.1,"y":"2015","g":"u"},{"m":2.17,"v":16.6,"y":"2015","g":"u"},{"m":2.27,"v":15.9,"y":"2015","g":"u"},{"m":2.37,"v":16.2,"y":"2015","g":"u"},{"m":2.46,"v":16.3,"y":"2015","g":"u"},{"m":2.54,"v":16.7,"y":"2015","g":"u"},{"m":2.64,"v":16.2,"y":"2015","g":"u"},{"m":2.74,"v":16.4,"y":"2015","g":"u"},{"m":2.80,"v":16.0,"y":"2015","g":"u"}
],
"f": [
{"m":1.00,"v":14.9,"y":"2014","g":"t"},{"m":1.16,"v":15.0,"y":"2014","g":"t"},{"m":1.35,"v":14.8,"y":"2014","g":"t"},{"m":1.53,"v":15.1,"y":"2014","g":"t"},{"m":1.71,"v":14.9,"y":"2014","g":"t"},{"m":1.90,"v":14.7,"y":"2014","g":"t"},{"m":2.08,"v":15.2,"y":"2014","g":"t"},{"m":2.26,"v":14.8,"y":"2014","g":"t"},{"m":2.45,"v":14.4,"y":"2014","g":"t"},{"m":2.63,"v":14.7,"y":"2014","g":"t"},{"m":2.81,"v":14.3,"y":"2014","g":"t"},{"m":2.91,"v":13.8,"y":"2014","g":"t"},{"m":3.09,"v":14.5,"y":"2014","g":"t"},{"m":3.27,"v":14.9,"y":"2014","g":"t"},{"m":3.36,"v":15.3,"y":"2014","g":"t"},{"m":3.45,"v":15.5,"y":"2014","g":"t"},{"m":3.55,"v":15.9,"y":"2014","g":"t"},{"m":3.64,"v":15.3,"y":"2014","g":"t"},{"m":3.73,"v":15.0,"y":"2014","g":"t"},{"m":3.82,"v":15.1,"y":"2014","g":"t"},{"m":3.91,"v":14.7,"y":"2014","g":"t"},{"m":4.00,"v":14.1,"y":"2014","g":"t"},{"m":4.09,"v":13.9,"y":"2014","g":"t"},{"m":4.18,"v":13.9,"y":"2014","g":"t"},{"m":4.28,"v":14.5,"y":"2014","g":"t"},{"m":4.37,"v":14.3,"y":"2014","g":"t"},{"m":4.46,"v":14.0,"y":"2014","g":"t"},{"m":4.64,"v":13.7,"y":"2014","g":"t"},{"m":4.74,"v":14.7,"y":"2014","g":"t"},{"m":4.83,"v":14.3,"y":"2014","g":"t"},{"m":4.92,"v":15.0,"y":"2014","g":"t"},{"m":5.01,"v":14.7,"y":"2014","g":"t"},{"m":5.10,"v":13.9,"y":"2014","g":"t"},{"m":5.19,"v":13.6,"y":"2014","g":"t"},{"m":5.29,"v":13.7,"y":"2014","g":"t"},{"m":5.38,"v":14.3,"y":"2014","g":"t"},{"m":5.47,"v":15.3,"y":"2014","g":"t"},{"m":5.56,"v":15.7,"y":"2014","g":"t"},{"m":5.65,"v":16.1,"y":"2014","g":"t"},{"m":5.74,"v":16.4,"y":"2014","g":"t"},{"m":5.83,"v":16.9,"y":"2014","g":"t"},{"m":5.92,"v":17.4,"y":"2014","g":"t"},{"m":6.01,"v":17.6,"y":"2014","g":"t"},{"m":6.11,"v":18.1,"y":"2014","g":"t"},{"m":6.20,"v":17.5,"y":"2014","g":"t"},{"m":6.29,"v":16.9,"y":"2014","g":"t"},{"m":6.38,"v":17.9,"y":"2014","g":"t"},{"m":6.47,"v":16.7,"y":"2014","g":"t"},{"m":6.56,"v":17.5,"y":"2014","g":"t"},{"m":6.66,"v":19.3,"y":"2014","g":"t"},{"m":6.75,"v":20.0,"y":"2014","g":"t"},{"m":6.84,"v":19.6,"y":"2014","g":"t"},{"m":6.93,"v":20.6,"y":"2014","g":"t"},{"m":7.09,"v":21.0,"y":"2014","g":"t"},{"m":7.28,"v":20.1,"y":"2014","g":"t"},{"m":7.47,"v":19.9,"y":"2014","g":"t"},{"m":7.67,"v":20.9,"y":"2014","g":"t"},{"m":7.86,"v":19.5,"y":"2014","g":"t"},{"m":8.01,"v":18.5,"y":"2014","g":"t"},{"m":8.15,"v":18.9,"y":"2014","g":"t"},{"m":8.25,"v":19.1,"y":"2014","g":"t"},{"m":8.44,"v":19.7,"y":"2014","g":"t"},{"m":8.64,"v":20.7,"y":"2014","g":"t"},{"m":8.73,"v":21.2,"y":"2014","g":"t"},{"m":8.83,"v":20.9,"y":"2014","g":"t"},{"m":8.97,"v":20.5,"y":"2014","g":"t"},{"m":9.12,"v":21.4,"y":"2014","g":"t"},{"m":9.22,"v":21.5,"y":"2014","g":"t"},{"m":9.31,"v":21.2,"y":"2014","g":"t"},{"m":9.41,"v":20.8,"y":"2014","g":"t"},{"m":9.51,"v":21.1,"y":"2014","g":"t"},{"m":9.65,"v":20.7,"y":"2014","g":"t"},{"m":9.80,"v":20.3,"y":"2014","g":"t"},{"m":9.90,"v":19.7,"y":"2014","g":"t"},{"m":9.99,"v":20.6,"y":"2014","g":"t"},{"m":10.09,"v":21.1,"y":"2014","g":"t"},{"m":10.19,"v":21.5,"y":"2014","g":"t"},{"m":10.28,"v":21.2,"y":"2014","g":"t"},{"m":10.38,"v":21.4,"y":"2014","g":"t"},{"m":10.48,"v":20.9,"y":"2014","g":"t"},{"m":10.57,"v":20.1,"y":"2014","g":"t"},{"m":10.67,"v":19.5,"y":"2014","g":"t"},{"m":10.82,"v":19.2,"y":"2014","g":"t"},{"m":10.96,"v":19.3,"y":"2014","g":"t"},{"m":11.16,"v":18.8,"y":"2014","g":"t"},{"m":11.35,"v":19.1,"y":"2014","g":"t"},{"m":11.54,"v":18.4,"y":"2014","g":"t"},{"m":11.74,"v":18.2,"y":"2014","g":"t"},{"m":11.93,"v":17.9,"y":"2014","g":"t"},{"m":12.12,"v":18.3,"y":"2014","g":"t"},{"m":12.32,"v":17.8,"y":"2014","g":"t"},{"m":12.51,"v":17.4,"y":"2014","g":"t"},{"m":12.66,"v":16.7,"y":"2014","g":"t"},{"m":12.78,"v":15.3,"y":"2014","g":"t"},{"m":13.00,"v":14.8,"y":"2014","g":"t"},
{"m":2.72,"v":13.5,"y":"2012","g":"b1"},{"m":2.81,"v":13.3,"y":"2012","g":"b1"},{"m":2.91,"v":13.1,"y":"2012","g":"b1"},{"m":3.00,"v":12.9,"y":"2012","g":"b1"},{"m":3.09,"v":13.1,"y":"2012","g":"b1"},{"m":3.18,"v":12.1,"y":"2012","g":"b1"},{"m":3.27,"v":12.4,"y":"2012","g":"b1"},{"m":3.36,"v":12.7,"y":"2012","g":"b1"},{"m":3.45,"v":12.1,"y":"2012","g":"b1"},{"m":3.55,"v":12.5,"y":"2012","g":"b1"},{"m":3.64,"v":12.3,"y":"2012","g":"b1"},{"m":3.73,"v":12.6,"y":"2012","g":"b1"},{"m":3.82,"v":12.7,"y":"2012","g":"b1"},{"m":3.91,"v":13.1,"y":"2012","g":"b1"},{"m":4.00,"v":13.2,"y":"2012","g":"b1"},{"m":4.09,"v":12.9,"y":"2012","g":"b1"},{"m":4.18,"v":12.7,"y":"2012","g":"b1"},{"m":4.28,"v":12.8,"y":"2012","g":"b1"},{"m":4.37,"v":12.4,"y":"2012","g":"b1"},{"m":4.46,"v":12.0,"y":"2012","g":"b1"},{"m":4.55,"v":12.9,"y":"2012","g":"b1"},{"m":4.64,"v":13.3,"y":"2012","g":"b1"},{"m":4.74,"v":13.7,"y":"2012","g":"b1"},{"m":4.83,"v":14.3,"y":"2012","g":"b1"},{"m":4.92,"v":14.5,"y":"2012","g":"b1"},{"m":5.01,"v":14.7,"y":"2012","g":"b1"},{"m":5.10,"v":14.9,"y":"2012","g":"b1"},{"m":5.19,"v":15.1,"y":"2012","g":"b1"},{"m":5.29,"v":15.3,"y":"2012","g":"b1"},{"m":5.38,"v":15.5,"y":"2012","g":"b1"},{"m":5.47,"v":15.9,"y":"2012","g":"b1"},{"m":5.56,"v":15.8,"y":"2012","g":"b1"},{"m":5.65,"v":16.0,"y":"2012","g":"b1"},{"m":5.74,"v":16.2,"y":"2012","g":"b1"},{"m":5.83,"v":16.3,"y":"2012","g":"b1"},{"m":5.92,"v":16.5,"y":"2012","g":"b1"},{"m":6.01,"v":17.1,"y":"2012","g":"b1"},{"m":6.11,"v":15.9,"y":"2012","g":"b1"},{"m":6.20,"v":14.9,"y":"2012","g":"b1"},{"m":6.29,"v":15.9,"y":"2012","g":"b1"},{"m":6.38,"v":16.9,"y":"2012","g":"b1"},{"m":6.47,"v":17.6,"y":"2012","g":"b1"},{"m":6.56,"v":17.9,"y":"2012","g":"b1"},{"m":6.66,"v":17.0,"y":"2012","g":"b1"},{"m":6.75,"v":16.5,"y":"2012","g":"b1"},{"m":6.84,"v":17.0,"y":"2012","g":"b1"},{"m":6.93,"v":16.7,"y":"2012","g":"b1"},{"m":7.03,"v":16.8,"y":"2012","g":"b1"},{"m":7.12,"v":16.2,"y":"2012","g":"b1"},{"m":7.21,"v":16.5,"y":"2012","g":"b1"},{"m":7.30,"v":16.8,"y":"2012","g":"b1"},{"m":7.39,"v":17.3,"y":"2012","g":"b1"},{"m":7.48,"v":17.7,"y":"2012","g":"b1"},{"m":7.57,"v":17.9,"y":"2012","g":"b1"},{"m":7.67,"v":17.3,"y":"2012","g":"b1"},{"m":7.76,"v":17.7,"y":"2012","g":"b1"},{"m":7.85,"v":17.9,"y":"2012","g":"b1"},
{"m":9.27,"v":18.6,"y":"2012","g":"b2"},{"m":9.32,"v":20.7,"y":"2012","g":"b2"},{"m":9.41,"v":20.3,"y":"2012","g":"b2"},{"m":9.50,"v":19.9,"y":"2012","g":"b2"},{"m":9.59,"v":20.3,"y":"2012","g":"b2"},{"m":9.68,"v":19.7,"y":"2012","g":"b2"},{"m":9.77,"v":20.7,"y":"2012","g":"b2"},{"m":9.91,"v":20.3,"y":"2012","g":"b2"},{"m":10.00,"v":20.1,"y":"2012","g":"b2"},{"m":10.14,"v":19.9,"y":"2012","g":"b2"},{"m":10.28,"v":19.4,"y":"2012","g":"b2"},{"m":10.41,"v":19.7,"y":"2012","g":"b2"},{"m":10.50,"v":19.1,"y":"2012","g":"b2"},{"m":10.60,"v":20.0,"y":"2012","g":"b2"},{"m":10.69,"v":19.1,"y":"2012","g":"b2"},{"m":10.78,"v":17.9,"y":"2012","g":"b2"},{"m":10.87,"v":17.2,"y":"2012","g":"b2"},
{"m":12.32,"v":14.4,"y":"2012","g":"b3"},{"m":12.51,"v":14.3,"y":"2012","g":"b3"},{"m":12.66,"v":14.1,"y":"2012","g":"b3"},{"m":12.78,"v":13.8,"y":"2012","g":"b3"},{"m":13.00,"v":13.6,"y":"2012","g":"b3"},
{"m":1.00,"v":14.0,"y":"2013","g":"p1"},{"m":1.16,"v":13.5,"y":"2013","g":"p1"},{"m":1.35,"v":13.1,"y":"2013","g":"p1"},{"m":1.44,"v":12.3,"y":"2013","g":"p1"},{"m":1.53,"v":12.0,"y":"2013","g":"p1"},{"m":1.62,"v":12.3,"y":"2013","g":"p1"},{"m":1.71,"v":12.5,"y":"2013","g":"p1"},{"m":1.80,"v":13.1,"y":"2013","g":"p1"},{"m":1.90,"v":13.0,"y":"2013","g":"p1"},{"m":1.99,"v":13.5,"y":"2013","g":"p1"},{"m":2.08,"v":13.3,"y":"2013","g":"p1"},{"m":2.22,"v":13.8,"y":"2013","g":"p1"},{"m":2.36,"v":13.5,"y":"2013","g":"p1"},{"m":2.45,"v":13.1,"y":"2013","g":"p1"},{"m":2.54,"v":13.1,"y":"2013","g":"p1"},{"m":2.68,"v":13.0,"y":"2013","g":"p1"},{"m":2.81,"v":12.7,"y":"2013","g":"p1"},{"m":2.91,"v":12.8,"y":"2013","g":"p1"},{"m":3.00,"v":12.9,"y":"2013","g":"p1"},{"m":3.09,"v":12.7,"y":"2013","g":"p1"},{"m":3.23,"v":12.9,"y":"2013","g":"p1"},{"m":3.36,"v":13.3,"y":"2013","g":"p1"},{"m":3.45,"v":13.1,"y":"2013","g":"p1"},{"m":3.55,"v":13.7,"y":"2013","g":"p1"},{"m":3.64,"v":13.9,"y":"2013","g":"p1"},{"m":3.77,"v":14.2,"y":"2013","g":"p1"},{"m":3.91,"v":14.1,"y":"2013","g":"p1"},{"m":4.00,"v":14.3,"y":"2013","g":"p1"},{"m":4.09,"v":14.5,"y":"2013","g":"p1"},{"m":4.18,"v":13.1,"y":"2013","g":"p1"},{"m":4.28,"v":13.5,"y":"2013","g":"p1"},{"m":4.37,"v":13.9,"y":"2013","g":"p1"},{"m":4.46,"v":14.3,"y":"2013","g":"p1"},{"m":4.57,"v":13.8,"y":"2013","g":"p1"},
{"m":5.29,"v":17.1,"y":"2013","g":"p2"},{"m":5.38,"v":16.7,"y":"2013","g":"p2"},{"m":5.47,"v":16.1,"y":"2013","g":"p2"},{"m":5.56,"v":16.5,"y":"2013","g":"p2"},{"m":5.65,"v":15.9,"y":"2013","g":"p2"},{"m":5.74,"v":15.5,"y":"2013","g":"p2"},{"m":5.83,"v":15.9,"y":"2013","g":"p2"},{"m":5.92,"v":17.9,"y":"2013","g":"p2"},{"m":6.01,"v":18.4,"y":"2013","g":"p2"},{"m":6.11,"v":17.9,"y":"2013","g":"p2"},{"m":6.20,"v":16.3,"y":"2013","g":"p2"},{"m":6.29,"v":15.9,"y":"2013","g":"p2"},{"m":6.38,"v":17.1,"y":"2013","g":"p2"},{"m":6.47,"v":16.7,"y":"2013","g":"p2"},{"m":6.56,"v":17.7,"y":"2013","g":"p2"},{"m":6.66,"v":17.5,"y":"2013","g":"p2"},{"m":6.75,"v":18.3,"y":"2013","g":"p2"},{"m":6.93,"v":18.4,"y":"2013","g":"p2"},{"m":7.12,"v":18.2,"y":"2013","g":"p2"},{"m":7.30,"v":18.5,"y":"2013","g":"p2"},{"m":7.48,"v":18.3,"y":"2013","g":"p2"},{"m":7.67,"v":18.0,"y":"2013","g":"p2"},{"m":7.85,"v":17.6,"y":"2013","g":"p2"},{"m":8.03,"v":17.3,"y":"2013","g":"p2"},{"m":8.17,"v":18.2,"y":"2013","g":"p2"},{"m":8.31,"v":18.4,"y":"2013","g":"p2"},{"m":8.49,"v":18.5,"y":"2013","g":"p2"},{"m":8.68,"v":18.3,"y":"2013","g":"p2"},{"m":8.86,"v":18.9,"y":"2013","g":"p2"},{"m":9.00,"v":19.8,"y":"2013","g":"p2"},{"m":9.09,"v":19.6,"y":"2013","g":"p2"},{"m":9.18,"v":19.2,"y":"2013","g":"p2"},{"m":9.27,"v":16.6,"y":"2013","g":"p2"},{"m":9.36,"v":18.9,"y":"2013","g":"p2"},{"m":9.50,"v":19.1,"y":"2013","g":"p2"},{"m":9.64,"v":18.7,"y":"2013","g":"p2"},{"m":9.77,"v":17.5,"y":"2013","g":"p2"},{"m":9.91,"v":17.2,"y":"2013","g":"p2"},{"m":10.00,"v":17.9,"y":"2013","g":"p2"},{"m":10.09,"v":16.6,"y":"2013","g":"p2"},{"m":10.19,"v":18.3,"y":"2013","g":"p2"},{"m":10.32,"v":19.0,"y":"2013","g":"p2"},{"m":10.46,"v":18.7,"y":"2013","g":"p2"},{"m":10.60,"v":18.5,"y":"2013","g":"p2"},{"m":10.73,"v":18.3,"y":"2013","g":"p2"},{"m":10.87,"v":17.9,"y":"2013","g":"p2"},{"m":11.01,"v":17.3,"y":"2013","g":"p2"},{"m":11.14,"v":16.6,"y":"2013","g":"p2"},{"m":11.24,"v":16.1,"y":"2013","g":"p2"},{"m":11.37,"v":16.4,"y":"2013","g":"p2"},{"m":11.51,"v":16.3,"y":"2013","g":"p2"},{"m":11.65,"v":15.9,"y":"2013","g":"p2"},{"m":11.79,"v":15.5,"y":"2013","g":"p2"},{"m":11.92,"v":15.9,"y":"2013","g":"p2"},{"m":12.06,"v":14.9,"y":"2013","g":"p2"},{"m":12.15,"v":14.2,"y":"2013","g":"p2"},{"m":12.25,"v":13.7,"y":"2013","g":"p2"},{"m":12.34,"v":14.6,"y":"2013","g":"p2"},{"m":12.48,"v":14.9,"y":"2013","g":"p2"},{"m":12.61,"v":15.1,"y":"2013","g":"p2"},{"m":12.71,"v":15.0,"y":"2013","g":"p2"},{"m":12.82,"v":15.1,"y":"2013","g":"p2"},{"m":13.00,"v":15.2,"y":"2013","g":"p2"},
{"m":1.00,"v":15.9,"y":"2015","g":"u"},{"m":1.07,"v":15.5,"y":"2015","g":"u"},{"m":1.26,"v":15.7,"y":"2015","g":"u"},{"m":1.44,"v":16.1,"y":"2015","g":"u"},{"m":1.53,"v":16.2,"y":"2015","g":"u"},{"m":1.63,"v":15.9,"y":"2015","g":"u"},{"m":1.81,"v":15.3,"y":"2015","g":"u"},{"m":1.99,"v":16.4,"y":"2015","g":"u"},{"m":2.17,"v":16.3,"y":"2015","g":"u"},{"m":2.36,"v":16.2,"y":"2015","g":"u"},{"m":2.54,"v":16.4,"y":"2015","g":"u"},{"m":2.72,"v":16.0,"y":"2015","g":"u"},{"m":2.91,"v":15.6,"y":"2015","g":"u"},{"m":3.09,"v":15.4,"y":"2015","g":"u"},{"m":3.27,"v":15.7,"y":"2015","g":"u"},{"m":3.45,"v":16.4,"y":"2015","g":"u"},{"m":3.64,"v":16.2,"y":"2015","g":"u"},{"m":3.82,"v":15.9,"y":"2015","g":"u"},{"m":4.00,"v":16.4,"y":"2015","g":"u"},{"m":4.10,"v":15.9,"y":"2015","g":"u"},{"m":4.19,"v":15.0,"y":"2015","g":"u"},{"m":4.28,"v":15.2,"y":"2015","g":"u"},{"m":4.37,"v":14.5,"y":"2015","g":"u"},{"m":4.46,"v":15.9,"y":"2015","g":"u"},{"m":4.56,"v":14.7,"y":"2015","g":"u"},{"m":4.65,"v":15.7,"y":"2015","g":"u"},{"m":4.74,"v":15.5,"y":"2015","g":"u"},{"m":4.83,"v":15.1,"y":"2015","g":"u"},{"m":4.92,"v":15.7,"y":"2015","g":"u"},{"m":5.01,"v":15.5,"y":"2015","g":"u"},{"m":5.10,"v":15.3,"y":"2015","g":"u"},{"m":5.19,"v":15.1,"y":"2015","g":"u"},{"m":5.28,"v":15.0,"y":"2015","g":"u"},{"m":5.37,"v":15.6,"y":"2015","g":"u"},{"m":5.56,"v":15.5,"y":"2015","g":"u"},{"m":5.65,"v":15.1,"y":"2015","g":"u"},{"m":5.74,"v":14.9,"y":"2015","g":"u"}
]
},
"spacing": 20,
"resolve": {"scale": {"color": "independent"}, "legend": {"color": "independent"}},
"hconcat": [
 {"spacing": 25,
  "resolve": {"scale": {"color": "independent"}, "legend": {"color": "independent"}},
  "vconcat": [
  {"width": 435, "height": 190,
   "layer": [
    {"data": {"name": "a"}, "mark": {"type": "line", "strokeWidth": 2.5, "clip": true},
     "encoding": {
      "x": {"field": "m", "type": "quantitative", "scale": {"domain": [1, 13], "nice": false, "zero": false}, "axis": {"values": [1,2,3,4,5,6,7,8,9,10,11,12], "tickCount": 40, "labels": false, "title": null, "tickSize": 6, "labelOverlap": false}},
      "y": {"field": "v", "type": "quantitative", "scale": {"domain": [7.829, 8.175], "nice": false, "zero": false}, "axis": {"values": [7.85,7.9,7.95,8,8.05,8.1,8.15], "tickCount": 40, "labelExpr": "datum.value == 7.9 || datum.value == 8 || datum.value == 8.1 ? format(datum.value, '.1f') : ''", "labelOverlap": false, "labelFontSize": 22, "labelPadding": 23, "tickSize": 6, "title": null}},
      "color": {"field": "y", "type": "nominal", "scale": {"domain": ["2012","2013","2014","2015"], "range": ["#1414dc","#e6176c","#3aa8a8","#3a1778"]}, "legend": null},
      "detail": {"field": "g", "type": "nominal"}}},
    {"data": {"values": [{}]}, "mark": {"type": "text", "text": "(a)", "fontSize": 20, "fontWeight": "bold", "align": "left", "baseline": "middle"},
     "encoding": {"x": {"datum": -1.87, "type": "quantitative"}, "y": {"datum": 8.148, "type": "quantitative"}}},
    {"data": {"values": [{}]}, "mark": {"type": "text", "text": "SMN", "fontSize": 20, "fontWeight": "bold", "align": "right", "baseline": "middle"},
     "encoding": {"x": {"datum": 12.61, "type": "quantitative"}, "y": {"datum": 8.133, "type": "quantitative"}}}
   ]},
  {"width": 435, "height": 190,
   "layer": [
    {"data": {"name": "b"}, "mark": {"type": "line", "strokeWidth": 2.5, "clip": true},
     "encoding": {
      "x": {"field": "m", "type": "quantitative", "scale": {"domain": [1, 13], "nice": false, "zero": false}, "axis": {"values": [1,2,3,4,5,6,7,8,9,10,11,12], "tickCount": 40, "labels": false, "title": null, "tickSize": 6, "labelOverlap": false}},
      "y": {"field": "v", "type": "quantitative", "scale": {"domain": [7.829, 8.175], "nice": false, "zero": false}, "axis": {"values": [7.85,7.9,7.95,8,8.05,8.1,8.15], "tickCount": 40, "labelExpr": "datum.value == 7.9 || datum.value == 8 || datum.value == 8.1 ? format(datum.value, '.1f') : ''", "labelOverlap": false, "labelFontSize": 22, "labelPadding": 23, "tickSize": 6, "title": "pHₜ", "titleFontSize": 24, "titlePadding": 10}},
      "color": {"field": "y", "type": "nominal", "scale": {"domain": ["2012","2013","2014","2015"], "range": ["#1414dc","#e6176c","#3aa8a8","#3a1778"]}, "legend": null},
      "detail": {"field": "g", "type": "nominal"}}},
    {"data": {"values": [{}]}, "mark": {"type": "text", "text": "(b)", "fontSize": 20, "fontWeight": "bold", "align": "left", "baseline": "middle"},
     "encoding": {"x": {"datum": -1.87, "type": "quantitative"}, "y": {"datum": 8.148, "type": "quantitative"}}},
    {"data": {"values": [{}]}, "mark": {"type": "text", "text": "PRZ", "fontSize": 20, "fontWeight": "bold", "align": "right", "baseline": "middle"},
     "encoding": {"x": {"datum": 12.61, "type": "quantitative"}, "y": {"datum": 8.133, "type": "quantitative"}}}
   ]},
  {"width": 435, "height": 190,
   "layer": [
    {"data": {"name": "c"}, "mark": {"type": "line", "strokeWidth": 2.5, "clip": true},
     "encoding": {
      "x": {"field": "m", "type": "quantitative", "scale": {"domain": [1, 13], "nice": false, "zero": false}, "axis": {"values": [1,2,3,4,5,6,7,8,9,10,11,12], "tickCount": 40, "format": "d", "labelOverlap": false, "labelFontSize": 24, "labelPadding": 13, "tickSize": 6, "title": "Month", "titleFontSize": 26, "titlePadding": 12}},
      "y": {"field": "v", "type": "quantitative", "scale": {"domain": [7.829, 8.175], "nice": false, "zero": false}, "axis": {"values": [7.85,7.9,7.95,8,8.05,8.1,8.15], "tickCount": 40, "labelExpr": "datum.value == 7.9 || datum.value == 8 || datum.value == 8.1 ? format(datum.value, '.1f') : ''", "labelOverlap": false, "labelFontSize": 22, "labelPadding": 23, "tickSize": 6, "title": null}},
      "color": {"field": "y", "type": "nominal", "scale": {"domain": ["2012","2013","2014","2015"], "range": ["#1414dc","#e6176c","#3aa8a8","#3a1778"]}, "legend": null},
      "detail": {"field": "g", "type": "nominal"}}},
    {"data": {"values": [{}]}, "mark": {"type": "text", "text": "(c)", "fontSize": 20, "fontWeight": "bold", "align": "left", "baseline": "middle"},
     "encoding": {"x": {"datum": -1.87, "type": "quantitative"}, "y": {"datum": 8.148, "type": "quantitative"}}},
    {"data": {"values": [{}]}, "mark": {"type": "text", "text": "ALC", "fontSize": 20, "fontWeight": "bold", "align": "right", "baseline": "middle"},
     "encoding": {"x": {"datum": 12.61, "type": "quantitative"}, "y": {"datum": 8.133, "type": "quantitative"}}}
   ]}
 ]},
 {"spacing": 25,
  "resolve": {"scale": {"color": "independent"}, "legend": {"color": "independent"}},
  "vconcat": [
  {"width": 437, "height": 190,
   "layer": [
    {"data": {"name": "d"}, "mark": {"type": "line", "strokeWidth": 2.5, "clip": true},
     "encoding": {
      "x": {"field": "m", "type": "quantitative", "scale": {"domain": [1, 13], "nice": false, "zero": false}, "axis": {"values": [1,2,3,4,5,6,7,8,9,10,11,12], "tickCount": 40, "labels": false, "title": null, "tickSize": 6, "labelOverlap": false}},
      "y": {"field": "v", "type": "quantitative", "scale": {"domain": [10.27, 21.79], "nice": false, "zero": false}, "axis": {"values": [11,12,13,14,15,16,17,18,19,20,21], "tickCount": 40, "labelExpr": "datum.value % 5 == 1 ? toString(datum.value) : ''", "labelOverlap": false, "labelFontSize": 24, "labelPadding": 11, "tickSize": 6, "title": null}},
      "color": {"field": "y", "type": "nominal", "scale": {"domain": ["2012","2013","2014","2015"], "range": ["#1414dc","#e6176c","#3aa8a8","#3a1778"]}, "legend": null},
      "detail": {"field": "g", "type": "nominal"}}},
    {"data": {"values": [{}]}, "mark": {"type": "text", "text": "(d)", "fontSize": 20, "fontWeight": "bold", "align": "left", "baseline": "middle"},
     "encoding": {"x": {"datum": -1.58, "type": "quantitative"}, "y": {"datum": 20.88, "type": "quantitative"}}},
    {"data": {"values": [{}]}, "mark": {"type": "text", "text": "SMN", "fontSize": 20, "fontWeight": "bold", "align": "right", "baseline": "middle"},
     "encoding": {"x": {"datum": 12.62, "type": "quantitative"}, "y": {"datum": 20.4, "type": "quantitative"}}}
   ]},
  {"width": 437, "height": 190,
   "layer": [
    {"data": {"name": "e"}, "mark": {"type": "line", "strokeWidth": 2.5, "clip": true},
     "encoding": {
      "x": {"field": "m", "type": "quantitative", "scale": {"domain": [1, 13], "nice": false, "zero": false}, "axis": {"values": [1,2,3,4,5,6,7,8,9,10,11,12], "tickCount": 40, "labels": false, "title": null, "tickSize": 6, "labelOverlap": false}},
      "y": {"field": "v", "type": "quantitative", "scale": {"domain": [10.27, 21.79], "nice": false, "zero": false}, "axis": {"values": [11,12,13,14,15,16,17,18,19,20,21], "tickCount": 40, "labelExpr": "datum.value % 5 == 1 ? toString(datum.value) : ''", "labelOverlap": false, "labelFontSize": 24, "labelPadding": 11, "tickSize": 6, "title": "Temp. (°C)", "titleFontSize": 24, "titlePadding": 8}},
      "color": {"field": "y", "type": "nominal", "scale": {"domain": ["2012","2013","2014","2015"], "range": ["#1414dc","#e6176c","#3aa8a8","#3a1778"]}, "legend": null},
      "detail": {"field": "g", "type": "nominal"}}},
    {"data": {"values": [{}]}, "mark": {"type": "text", "text": "(e)", "fontSize": 20, "fontWeight": "bold", "align": "left", "baseline": "middle"},
     "encoding": {"x": {"datum": -1.58, "type": "quantitative"}, "y": {"datum": 20.88, "type": "quantitative"}}},
    {"data": {"values": [{}]}, "mark": {"type": "text", "text": "PRZ", "fontSize": 20, "fontWeight": "bold", "align": "right", "baseline": "middle"},
     "encoding": {"x": {"datum": 12.62, "type": "quantitative"}, "y": {"datum": 20.4, "type": "quantitative"}}}
   ]},
  {"width": 437, "height": 190,
   "layer": [
    {"data": {"name": "f"}, "mark": {"type": "line", "strokeWidth": 2.5, "clip": true},
     "encoding": {
      "x": {"field": "m", "type": "quantitative", "scale": {"domain": [1, 13], "nice": false, "zero": false}, "axis": {"values": [1,2,3,4,5,6,7,8,9,10,11,12], "tickCount": 40, "format": "d", "labelOverlap": false, "labelFontSize": 24, "labelPadding": 13, "tickSize": 6, "title": "Month", "titleFontSize": 26, "titlePadding": 12}},
      "y": {"field": "v", "type": "quantitative", "scale": {"domain": [10.27, 21.79], "nice": false, "zero": false}, "axis": {"values": [11,12,13,14,15,16,17,18,19,20,21], "tickCount": 40, "labelExpr": "datum.value % 5 == 1 ? toString(datum.value) : ''", "labelOverlap": false, "labelFontSize": 24, "labelPadding": 11, "tickSize": 6, "title": null}},
      "color": {"field": "y", "type": "nominal", "scale": {"domain": ["2012","2013","2014","2015"], "range": ["#1414dc","#e6176c","#3aa8a8","#3a1778"]},
        "legend": {"orient": "none", "legendX": 190, "legendY": 132, "columns": 2, "title": null, "symbolType": "stroke", "symbolSize": 1000, "symbolStrokeWidth": 3, "labelFontSize": 20, "labelColor": "black", "labelOffset": 8, "columnPadding": 8, "rowPadding": 4, "clipHeight": 20, "padding": 0}},
      "detail": {"field": "g", "type": "nominal"}}},
    {"data": {"values": [{}]}, "mark": {"type": "text", "text": "(f)", "fontSize": 20, "fontWeight": "bold", "align": "left", "baseline": "middle"},
     "encoding": {"x": {"datum": -1.58, "type": "quantitative"}, "y": {"datum": 20.88, "type": "quantitative"}}},
    {"data": {"values": [{}]}, "mark": {"type": "text", "text": "ALC", "fontSize": 20, "fontWeight": "bold", "align": "right", "baseline": "middle"},
     "encoding": {"x": {"datum": 12.62, "type": "quantitative"}, "y": {"datum": 20.4, "type": "quantitative"}}}
   ]}
 ]}
]
}
